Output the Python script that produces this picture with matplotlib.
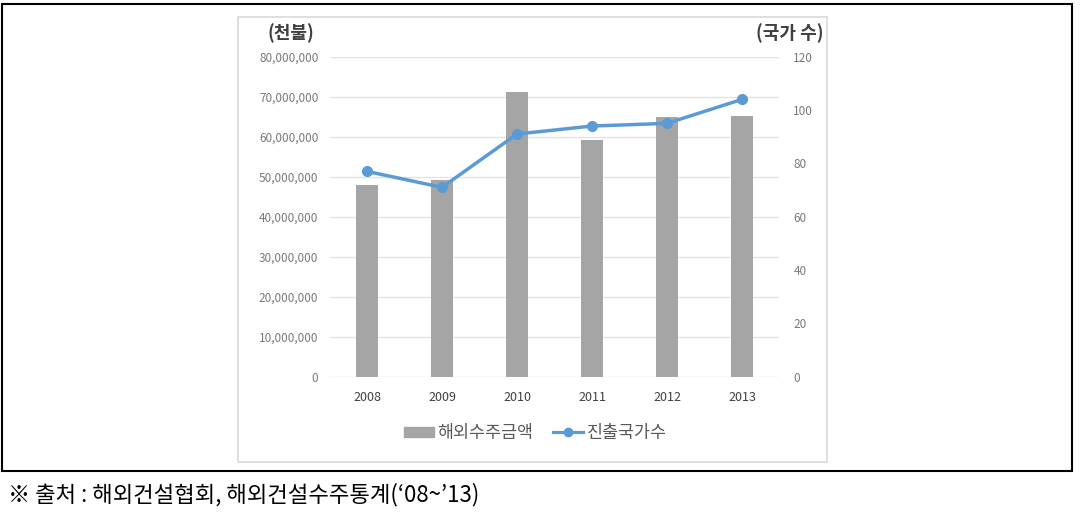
import matplotlib
matplotlib.use("Agg")
import matplotlib.pyplot as plt
import numpy as np
from matplotlib.patches import Rectangle
from matplotlib.lines import Line2D
from matplotlib.ticker import FuncFormatter

plt.rcParams['font.family'] = ['Noto Sans CJK KR', 'DejaVu Sans']

# 데이터
years = ['2008', '2009', '2010', '2011', '2012', '2013']
amount = [47850000, 49300000, 71250000, 59200000, 64850000, 65100000]   # 해외수주금액 (천불)
countries = [77, 71, 91, 94, 95, 104]                                     # 진출국가수

W, H = 1081, 513
fig = plt.figure(figsize=(W / 100, H / 100), dpi=100)

def px(x0, y0, x1, y1):
    # 픽셀 좌표(위 기준) -> figure 좌표
    return [x0 / W, 1 - y1 / H, (x1 - x0) / W, (y1 - y0) / H]

# 바깥 검은 테두리, 차트 영역 테두리
fig.patches.append(Rectangle((2 / W, 1 - 471 / H), 1070 / W, 467 / H, transform=fig.transFigure,
                             fill=False, ec='black', lw=1.5))
fig.patches.append(Rectangle((238 / W, 1 - 462 / H), 589 / W, 445 / H, transform=fig.transFigure,
                             fill=False, ec='#d9d9d9', lw=1.2))

ax = fig.add_axes(px(329.5, 56.7, 779.5, 376.7))
x = np.arange(len(years))
bar_c = '#a5a5a5'
line_c = '#5b9bd5'

ax.bar(x, amount, width=0.30, color=bar_c, zorder=2)
ax.set_xlim(-0.5, len(years) - 0.5)
ax.set_ylim(0, 80000000)
ax.set_yticks(np.arange(0, 80000001, 10000000))
ax.yaxis.set_major_formatter(FuncFormatter(lambda v, p: f'{int(v):,}'))
ax.set_xticks(x)
ax.set_xticklabels(years)
ax.grid(axis='y', color='#e3e3e3', lw=1, zorder=0)
ax.set_axisbelow(True)
for s in ax.spines.values():
    s.set_visible(False)
ax.tick_params(axis='y', length=0, pad=8, labelsize=8.5, labelcolor='#7a7a7a')
ax.tick_params(axis='x', length=0, pad=10, labelsize=9, labelcolor='#404040')

ax2 = ax.twinx()
ax2.plot(x, countries, color=line_c, lw=2.5, marker='o', ms=7, zorder=3)
ax2.set_ylim(0, 120)
ax2.set_yticks(np.arange(0, 121, 20))
for s in ax2.spines.values():
    s.set_visible(False)
ax2.tick_params(axis='y', length=0, pad=10, labelsize=8.5, labelcolor='#7a7a7a')

fig.text(291 / W, 1 - 33 / H, '(천불)', ha='center', va='center', fontsize=13,
         fontweight='bold', color='#404040')
fig.text(790 / W, 1 - 33 / H, '(국가 수)', ha='center', va='center', fontsize=13,
         fontweight='bold', color='#404040')

handles = [Rectangle((0, 0), 1, 1, color=bar_c),
           Line2D([], [], color=line_c, lw=2.3, marker='o', ms=6)]
fig.legend(handles, ['해외수주금액', '진출국가수'], loc='center',
           bbox_to_anchor=(535 / W, 1 - 433 / H), ncol=2, frameon=False,
           fontsize=12.5, handlelength=1.75, handleheight=0.5, handletextpad=0.2,
           columnspacing=1.1, labelcolor='#595959')

fig.text(8 / W, 1 - 495 / H, '※ 출처 : 해외건설협회, 해외건설수주통계(‘08~’13)', ha='left',
         va='center', fontsize=16, color='black')

fig.savefig('out.png', dpi=100)
